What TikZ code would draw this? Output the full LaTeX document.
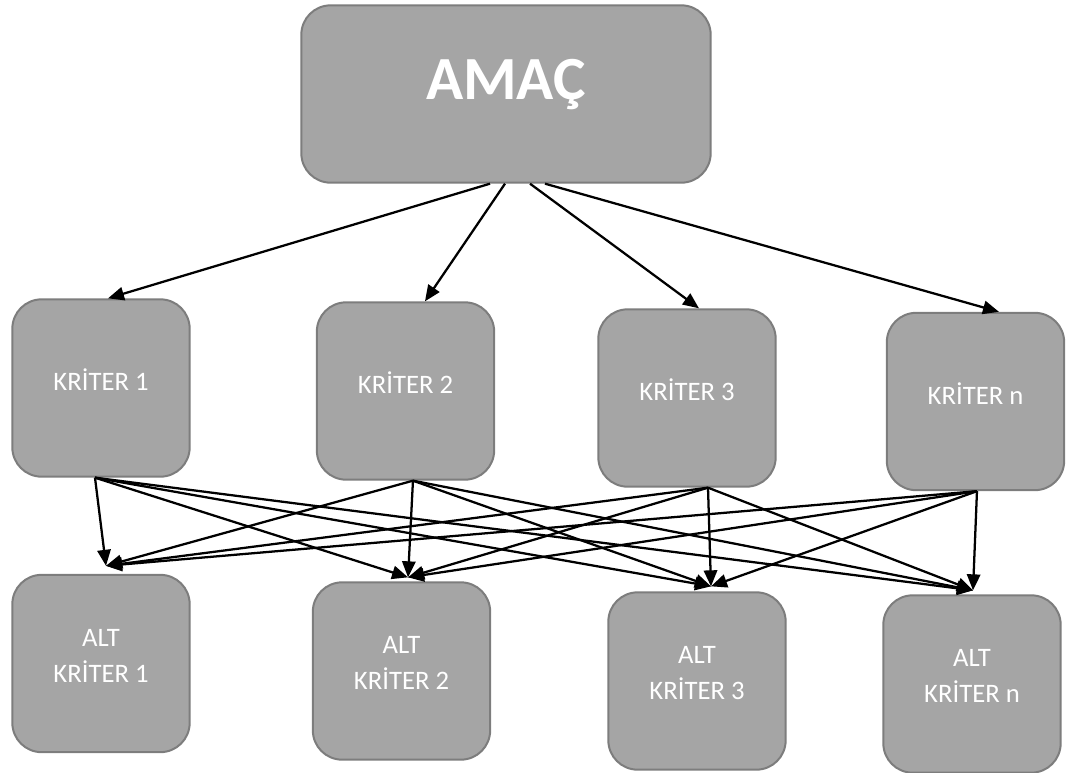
\documentclass[tikz,border=0pt]{standalone}
\usepackage{fontspec}
\setmainfont{Carlito}
\usepackage{tikz}
\usetikzlibrary{arrows.meta,positioning,calc}
\definecolor{boxgray}{RGB}{165,165,165}
\definecolor{edgegray}{RGB}{125,125,125}
\tikzset{
  >={Triangle[length=12pt,width=10pt]},
  box/.style={draw=edgegray,fill=boxgray,line width=1.5pt,rounded corners=22pt,
    minimum width=133pt,minimum height=133pt},
  boxtext/.style={text=white,align=center,font=\fontsize{20}{27}\selectfont,yshift=6pt},
  crit/.style={box,label={[boxtext]center:#1}},
  goal/.style={box,minimum width=307pt,minimum height=133pt,
    label={[boxtext,font=\fontsize{46}{50}\selectfont\bfseries,yshift=1pt]center:#1}},
  link/.style={->,line width=1.7pt,draw=black},
}
\begin{document}
\begin{tikzpicture}[x=0.75pt,y=-0.75pt]
  \useasboundingbox (0,0) rectangle (1067,772);
  % top level
  \node[goal={AMAÇ}] (amac) at (506,94) {};
  % criteria
  \node[crit={KRİTER 1}] (k1) at (101,388) {};
  \node[crit={KRİTER 2}] (k2) at (405.5,391) {};
  \node[crit={KRİTER 3}] (k3) at (687,398) {};
  \node[crit={KRİTER n}] (k4) at (975.5,401.5) {};
  % sub criteria
  \node[crit={ALT\\KRİTER 1}] (a1) at (101,663.5) {};
  \node[crit={ALT\\KRİTER 2}] (a2) at (401.5,671) {};
  \node[crit={ALT\\KRİTER 3}] (a3) at (697,681) {};
  \node[crit={ALT\\KRİTER n}] (a4) at (972,684) {};
  \draw[link] ([xshift=-12pt]amac.south) -- ([xshift=5.25pt]k1.north);
  \draw[link] ([xshift=-0.75pt]amac.south) -- ([xshift=14.6pt]k2.north);
  \draw[link] ([xshift=18pt]amac.south) -- ([xshift=9pt]k3.north);
  \draw[link] ([xshift=29.25pt]amac.south) -- ([xshift=17.6pt]k4.north);
  \coordinate (s1) at ([xshift=-4.5pt]k1.south);
  \coordinate (s2) at ([xshift=5.6pt]k2.south);
  \coordinate (s3) at ([xshift=15.75pt]k3.south);
  \coordinate (s4) at ([xshift=1.1pt]k4.south);
  \coordinate (t1) at ([xshift=3.75pt,yshift=6pt]a1.north);
  \coordinate (t2) at ([xshift=4.9pt,yshift=3pt]a2.north);
  \coordinate (t3) at ([xshift=10.5pt,yshift=3.75pt]a3.north);
  \coordinate (t4) at ([xshift=0.75pt,yshift=3pt]a4.north);
  \foreach \i in {1,...,4}
    \foreach \j in {1,...,4}
      \draw[link] (s\i) -- (t\j);
\end{tikzpicture}
\end{document}
